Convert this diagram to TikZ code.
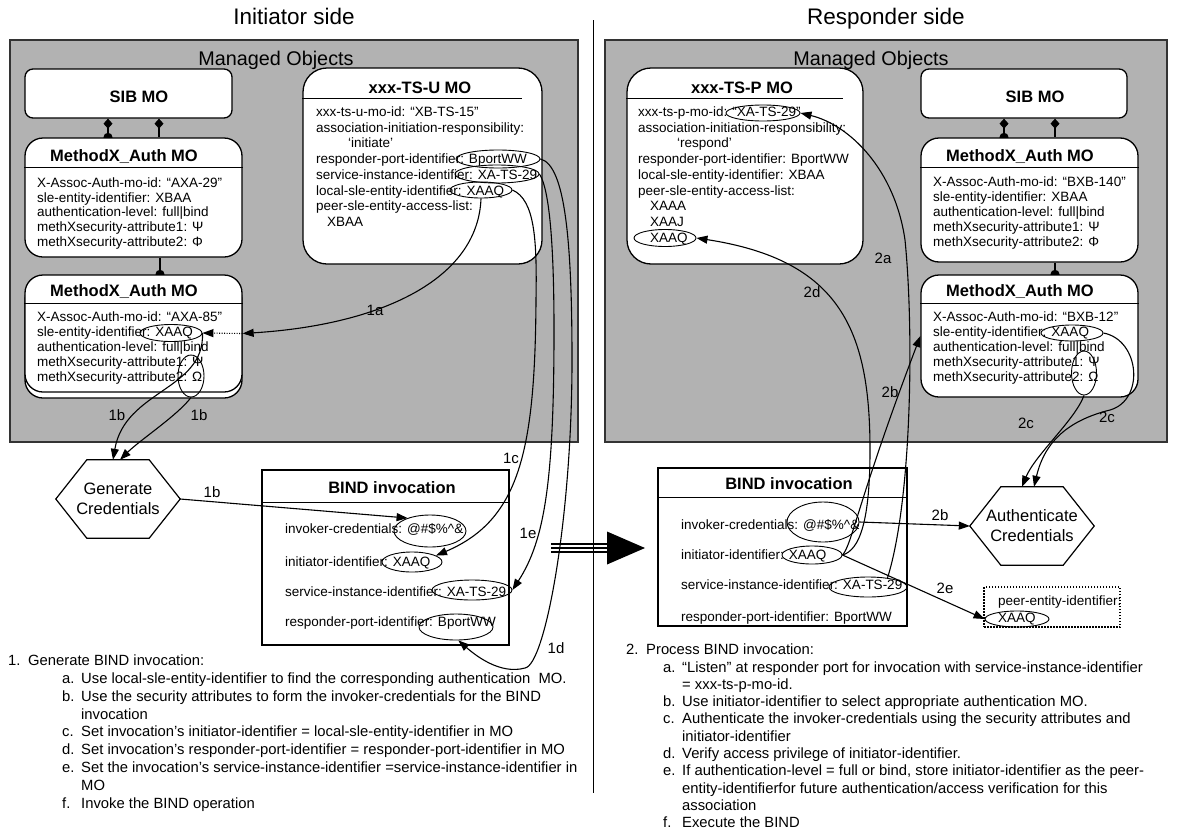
\documentclass[tikz,border=0pt]{standalone}
\usepackage{fontspec}
\setmainfont{Liberation Sans}
\usetikzlibrary{arrows.meta,shapes.geometric}

\pgfdeclarelayer{panel}
\pgfdeclarelayer{links}
\pgfsetlayers{panel,links,main}

\newcommand{\moText}{\fontsize{13.5pt}{15pt}\selectfont}
\newcommand{\moHead}{\fontsize{16.5pt}{19pt}\selectfont\bfseries}
\newcommand{\arLabel}{\fontsize{15pt}{18pt}\selectfont}
\newcommand{\stepText}{\fontsize{14.8pt}{18pt}\selectfont}

\tikzset{
  panel/.style={fill=black!30, draw=black!80, line width=1.3pt},
  mobox/.style={draw, fill=white, line width=1.3pt, rounded corners=#1, inner sep=0pt},
  mobox/.default=18pt,
  bindbox/.style={draw, fill=white, line width=1.3pt, inner sep=0pt},
  oval/.style={draw, ellipse, line width=0.9pt, inner sep=0pt},
  txt/.style={anchor=west, inner sep=0pt, text height=9.5pt, text depth=2.5pt, font=\moText},
  head/.style={inner sep=0pt, text height=12pt, text depth=0pt, font=\moHead},
  lbl/.style={inner sep=0pt, text height=10.7pt, text depth=0pt, font=\arLabel},
  item/.style={anchor=west, inner sep=0pt, text height=10.5pt, text depth=3pt, font=\stepText},
  link/.style={line width=1.1pt},
  arr/.style={line width=1.1pt, -{Triangle[length=11pt,width=8pt]}},
}

\begin{document}
\begin{tikzpicture}[x=1pt, y=-1pt]
\useasboundingbox (0,0) rectangle (1177,830);

% grey panels and divider
\begin{pgfonlayer}{panel}
  \draw[panel] (10,40) rectangle (578,442);
  \draw[panel] (605,40) rectangle (1167,442);
\end{pgfonlayer}
\draw[line width=1pt] (593,20) -- (593,793);

\node[inner sep=0pt, text height=16pt, text depth=0pt, font=\fontsize{22.5pt}{26pt}\selectfont] (tinit) at (294,16) {Initiator side};
\node[inner sep=0pt, text height=16pt, text depth=0pt, font=\fontsize{22.5pt}{26pt}\selectfont] (tresp) at (886,16) {Responder side};
\node[inner sep=0pt, text height=14.2pt, text depth=0pt, font=\fontsize{19.8pt}{23pt}\selectfont] (mngl) at (276,58) {Managed Objects};
\node[inner sep=0pt, text height=14.2pt, text depth=0pt, font=\fontsize{19.8pt}{23pt}\selectfont] (mngr) at (871,58) {Managed Objects};

% initiator side managed objects
\node[mobox=8pt, minimum width=207pt, minimum height=49pt] (lsib) at (128.5,93.5) {};
\node[head] (lsibh) at (139,96) {SIB MO};

\node[mobox, minimum width=217pt, minimum height=119pt] (lm1) at (133.5,197.5) {};
\node[head] (lm1h) at (124,155) {MethodX\_Auth MO};
\draw[line width=1pt] (lm1.west |- 0,167) -- (lm1.east |- 0,167);
\foreach \s [count=\i from 0] in {X-Assoc-Auth-mo-id: “AXA-29”, sle-entity-identifier: XBAA, authentication-level: full|bind, methXsecurity-attribute1: Ψ, methXsecurity-attribute2: Φ}
  \node[txt] (lm1-\i) at (37,184+14.7*\i) {\s};

\node[mobox, minimum width=217pt, minimum height=117pt] (lm2s) at (133.5,339.5) {};
\node[mobox, minimum width=217pt, minimum height=117pt] (lm2) at (133.5,333.5) {};
\node[head] (lm2h) at (124,290) {MethodX\_Auth MO};
\draw[line width=1pt] (lm2.west |- 0,303) -- (lm2.east |- 0,303);
\foreach \s [count=\i from 0] in {X-Assoc-Auth-mo-id: “AXA-85”, sle-entity-identifier: XAAQ, authentication-level: full|bind, methXsecurity-attribute1: Ψ, methXsecurity-attribute2: Ω}
  \node[txt] (lm2-\i) at (37,318+15*\i) {\s};
\node[oval, minimum width=62pt, minimum height=17pt] (lQ) at (171,333) {};
\node[oval, minimum width=26pt, minimum height=42pt] (lAttr) at (191,376) {};

\node[mobox=24pt, minimum width=239pt, minimum height=196pt] (tsu) at (422.5,166) {};
\node[head] (tsuh) at (420,87) {xxx-TS-U MO};
\draw[line width=1pt] (tsu.west |- 0,98) -- (522,98);
\foreach \dx/\s [count=\i from 0] in {0/xxx-ts-u-mo-id: “XB-TS-15”, 0/association-initiation-responsibility:, 32/‘initiate’, 0/responder-port-identifier: BportWW, 0/service-instance-identifier: XA-TS-29, 0/local-sle-entity-identifier: XAAQ, 0/peer-sle-entity-access-list:, 11/XBAA}
  \node[txt] (tsu-\i) at (316+\dx,113+15.7*\i) {\s};
\node[oval, minimum width=84pt, minimum height=18pt] (uPort) at (498,159) {};
\node[oval, minimum width=84pt, minimum height=18pt] (uSvc) at (497,174) {};
\node[oval, minimum width=62pt, minimum height=16pt] (uLoc) at (481,190) {};

% initiator side invocation
\node[minimum width=124pt, minimum height=78pt, inner sep=0pt, align=center, font=\fontsize{16.5pt}{20pt}\selectfont] (gen) at (118,499) {Generate\\Credentials};
\draw[line width=1.2pt] (gen.west) -- ([xshift=31pt]gen.north west) -- ([xshift=-31pt]gen.north east) -- (gen.east) -- ([xshift=-31pt]gen.south east) -- ([xshift=31pt]gen.south west) -- cycle;

\node[bindbox, minimum width=247pt, minimum height=175pt] (bindl) at (385.5,557.5) {};
\node[head] (bindlh) at (392,487) {BIND invocation};
\draw[line width=1pt] (bindl.west |- 0,502) -- (bindl.east |- 0,502);
\node[txt] (bl1) at (285,530) {invoker-credentials: @\#\$\%\textasciicircum\&};
\node[txt] (bl2) at (285,563) {initiator-identifier: XAAQ};
\node[txt] (bl3) at (285,593) {service-instance-identifier: XA-TS-29};
\node[txt] (bl4) at (285,623) {responder-port-identifier: BportWW};
\node[oval, minimum width=72pt, minimum height=32pt] (bCred) at (430,531) {};
\node[oval, minimum width=60pt, minimum height=20pt] (bInit) at (412,562) {};
\node[oval, minimum width=80pt, minimum height=20pt] (bSvc) at (472,590) {};
\node[oval, minimum width=74pt, minimum height=26pt] (bPort) at (456,627) {};

% responder side managed objects
\node[mobox=24pt, minimum width=236pt, minimum height=196pt] (tsp) at (745,166) {};
\node[head] (tsph) at (742,87) {xxx-TS-P MO};
\draw[line width=1pt] (tsp.west |- 0,98) -- (843,98);
\foreach \dx/\s [count=\i from 0] in {0/xxx-ts-p-mo-id: “XA-TS-29”, 0/association-initiation-responsibility:, 39/‘respond’, 0/responder-port-identifier: BportWW, 0/local-sle-entity-identifier: XBAA, 0/peer-sle-entity-access-list:, 12/XAAA, 12/XAAJ, 12/XAAQ}
  \node[txt] (tsp-\i) at (638+\dx,113+15.7*\i) {\s};
\node[oval, minimum width=74pt, minimum height=16pt] (pSvc) at (763,113) {};
\node[oval, minimum width=62pt, minimum height=17pt] (pQ) at (665,238) {};

\node[mobox=8pt, minimum width=206pt, minimum height=49pt] (rsib) at (1024,93.5) {};
\node[head] (rsibh) at (1035,96) {SIB MO};

\node[mobox, minimum width=217pt, minimum height=124pt] (rm1) at (1029.5,200) {};
\node[head] (rm1h) at (1020,155) {MethodX\_Auth MO};
\draw[line width=1pt] (rm1.west |- 0,167) -- (rm1.east |- 0,167);
\foreach \s [count=\i from 0] in {X-Assoc-Auth-mo-id: “BXB-140”, sle-entity-identifier: XBAA, authentication-level: full|bind, methXsecurity-attribute1: Ψ, methXsecurity-attribute2: Φ}
  \node[txt] (rm1-\i) at (933,183+15*\i) {\s};

\node[mobox, minimum width=217pt, minimum height=122pt] (rm2) at (1029.5,336) {};
\node[head] (rm2h) at (1020,290) {MethodX\_Auth MO};
\draw[line width=1pt] (rm2.west |- 0,303) -- (rm2.east |- 0,303);
\foreach \s [count=\i from 0] in {X-Assoc-Auth-mo-id: “BXB-12”, sle-entity-identifier: XAAQ, authentication-level: full|bind, methXsecurity-attribute1: Ψ, methXsecurity-attribute2: Ω}
  \node[txt] (rm2-\i) at (933,318+15*\i) {\s};
\node[oval, minimum width=62pt, minimum height=16pt] (rQ) at (1072,333) {};
\node[oval, minimum width=25pt, minimum height=44pt] (rAttr) at (1084,373) {};

% responder side invocation
\node[bindbox, minimum width=249pt, minimum height=158pt] (bindr) at (782.5,547) {};
\node[head] (bindrh) at (789,483) {BIND invocation};
\draw[line width=1pt] (bindr.west |- 0,497) -- (bindr.east |- 0,497);
\node[txt] (br1) at (681,526) {invoker-credentials: @\#\$\%\textasciicircum\&};
\node[txt] (br2) at (681,556) {initiator-identifier: XAAQ};
\node[txt] (br3) at (681,586) {service-instance-identifier: XA-TS-29};
\node[txt] (br4) at (681,618) {responder-port-identifier: BportWW};
\node[oval, minimum width=72pt, minimum height=40pt] (qCred) at (823,522) {};
\node[oval, minimum width=60pt, minimum height=18pt] (qInit) at (812,555) {};
\node[oval, minimum width=78pt, minimum height=20pt] (qSvc) at (868,587) {};

\node[minimum width=124pt, minimum height=78pt, inner sep=0pt, align=center, font=\fontsize{16.5pt}{20pt}\selectfont] (auth) at (1032,526) {Authenticate\\Credentials};
\draw[line width=1.2pt] (auth.west) -- ([xshift=31pt]auth.north west) -- ([xshift=-31pt]auth.north east) -- (auth.east) -- ([xshift=-31pt]auth.south east) -- ([xshift=31pt]auth.south west) -- cycle;

\node[draw, line width=1.3pt, dash pattern=on 1.5pt off 1.5pt, minimum width=136pt, minimum height=40pt, inner sep=0pt] (peer) at (1052,607) {};
\node[txt] (peert) at (998,602) {peer-entity-identifier:};
\node[txt] (peerv) at (998,619) {XAAQ};
\node[oval, minimum width=64pt, minimum height=16pt] (pe) at (1017,619) {};

% containment links
\begin{pgfonlayer}{links}
  \draw[link, {Diamond[length=10pt,width=9pt]}-{Circle[length=9pt]}, shorten >=-4.5pt] ([xshift=-20.5pt]lsib.south) -- ([xshift=-20.5pt]lsib.south |- lm1.north);
  \draw[link, {Diamond[length=10pt,width=9pt]}-] ([xshift=30.5pt]lsib.south) -- ([xshift=30.5pt]lsib.south |- lm1.north);
  \draw[link, -{Circle[length=9pt]}, shorten >=-4.5pt] ([xshift=26.5pt]lm1.south) -- ([xshift=26.5pt]lm1.south |- lm2.north);
  \draw[link, {Diamond[length=10pt,width=9pt]}-{Circle[length=9pt]}, shorten >=-4.5pt] ([xshift=-20pt]rsib.south) -- ([xshift=-20pt]rsib.south |- rm1.north);
  \draw[link, {Diamond[length=10pt,width=9pt]}-] ([xshift=31pt]rsib.south) -- ([xshift=31pt]rsib.south |- rm1.north);
  \draw[link, -{Circle[length=9pt]}, shorten >=-4.5pt] ([xshift=25.5pt]rm1.south) -- ([xshift=25.5pt]rm1.south |- rm2.north);
\end{pgfonlayer}

% step 1 arrows
\draw[arr] (uLoc.south) .. controls (478,280) and (380,325) .. (lm2.east);
\node[lbl] (l1a) at (375,310) {1a};
\draw[arr, dash pattern=on 1pt off 1.5pt] (lm2.east) -- (lQ.east);
\draw[arr] (lQ.east) .. controls (205,390) and (125,390) .. ([xshift=-5pt]gen.north);
\draw[arr] (lAttr.south) .. controls (178,415) and (140,440) .. ([xshift=2pt]gen.north);
\node[lbl] (l1b) at (117,415) {1b};
\node[lbl] (l1b2) at (199,415) {1b};
\draw[arr] (gen.east) -- (bCred.150);
\node[lbl] (l1b3) at (212,492) {1b};
\draw[arr] (uLoc.east) .. controls (535,200) and (537,240) .. (536,300) .. controls (535,450) and (520,520) .. (bInit.15);
\node[lbl] (l1c) at (511,458) {1c};
\draw[arr] (uSvc.east) .. controls (550,190) and (554,250) .. (554,330) .. controls (554,480) and (545,540) .. (bSvc.east);
\node[lbl] (l1e) at (528,533) {1e};
\draw[arr] (uPort.east) .. controls (565,165) and (572,240) .. (572,360) .. controls (572,520) and (545,665) .. (525,668) .. controls (500,675) and (475,655) .. (bPort.-80);
\node[lbl] (l1d) at (556,648) {1d};

% hand-over arrow
\draw[line width=1.5pt] (551,544) -- (609,544) (551,548) -- (609,548) (551,552) -- (609,552);
\fill (607,531.5) -- (645,548) -- (607,564.5) -- cycle;

% step 2 arrows
\draw[arr] (qSvc.25) .. controls (912,500) and (914,330) .. (905,240) .. controls (895,170) and (850,125) .. (pSvc.east);
\node[lbl] (l2a) at (883,258) {2a};
\draw[arr] (qInit.east) .. controls (860,550) and (870,520) .. (870,450) .. controls (870,330) and (840,260) .. (pQ.east);
\node[lbl] (l2d) at (812,292) {2d};
\draw[arr] (qInit.east) .. controls (852,545) and (858,500) .. (rm2.west);
\node[lbl] (l2b) at (890,392) {2b};
\draw[arr] (qCred.east) -- (auth.west);
\node[lbl] (l2b2) at (940,515) {2b};
\draw[arr] (rAttr.south) .. controls (1075,420) and (1035,455) .. ([xshift=-10pt]auth.north);
\draw[arr] (rQ.east) .. controls (1140,340) and (1145,400) .. (1110,410) .. controls (1070,420) and (1045,440) .. ([xshift=2pt]auth.north);
\node[lbl] (l2c) at (1026,423) {2c};
\node[lbl] (l2c2) at (1107,417) {2c};
\draw[arr] (qInit.east) -- (pe.west);
\node[lbl] (l2e) at (945,588) {2e};

% step lists
\node[item] (s1) at (8,662) {1.};
\node[item] (s1h) at (28,662) {Generate BIND invocation:};
\node[item] (s1a) at (62,679.8) {a.};
\node[item] (s1at) at (81,679.8) {Use local-sle-entity-identifier to find the corresponding authentication\ \ MO.};
\node[item] (s1b) at (62,697.6) {b.};
\node[item] (s1bt) at (81,697.6) {Use the security attributes to form the invoker-credentials for the BIND};
\node[item] (s1bu) at (81,715.4) {invocation};
\node[item] (s1c) at (62,733.2) {c.};
\node[item] (s1ct) at (81,733.2) {Set invocation’s initiator-identifier = local-sle-entity-identifier in MO};
\node[item] (s1d) at (62,751) {d.};
\node[item] (s1dt) at (81,751) {Set invocation’s responder-port-identifier = responder-port-identifier in MO};
\node[item] (s1e) at (62,768.8) {e.};
\node[item] (s1et) at (81,768.8) {Set the invocation’s service-instance-identifier =service-instance-identifier in};
\node[item] (s1eu) at (81,786.6) {MO};
\node[item] (s1f) at (62,804.4) {f.};
\node[item] (s1ft) at (81,804.4) {Invoke the BIND operation};

\node[item] (s2) at (626,651) {2.};
\node[item] (s2h) at (646,651) {Process BIND invocation:};
\node[item] (s2a) at (663,668.3) {a.};
\node[item] (s2at) at (682,668.3) {“Listen” at responder port for invocation with service-instance-identifier};
\node[item] (s2au) at (682,685.6) {= xxx-ts-p-mo-id.};
\node[item] (s2b) at (663,702.9) {b.};
\node[item] (s2bt) at (682,702.9) {Use initiator-identifier to select appropriate authentication MO.};
\node[item] (s2c) at (663,720.2) {c.};
\node[item] (s2ct) at (682,720.2) {Authenticate the invoker-credentials using the security attributes and};
\node[item] (s2cu) at (682,737.5) {initiator-identifier};
\node[item] (s2d) at (663,754.8) {d.};
\node[item] (s2dt) at (682,754.8) {Verify access privilege of initiator-identifier.};
\node[item] (s2e) at (663,772.1) {e.};
\node[item] (s2et) at (682,772.1) {If authentication-level = full or bind, store initiator-identifier as the peer-};
\node[item] (s2eu) at (682,789.4) {entity-identifierfor future authentication/access verification for this};
\node[item] (s2ev) at (682,806.7) {association};
\node[item] (s2f) at (663,824) {f.};
\node[item] (s2ft) at (682,824) {Execute the BIND};
\end{tikzpicture}
\end{document}
